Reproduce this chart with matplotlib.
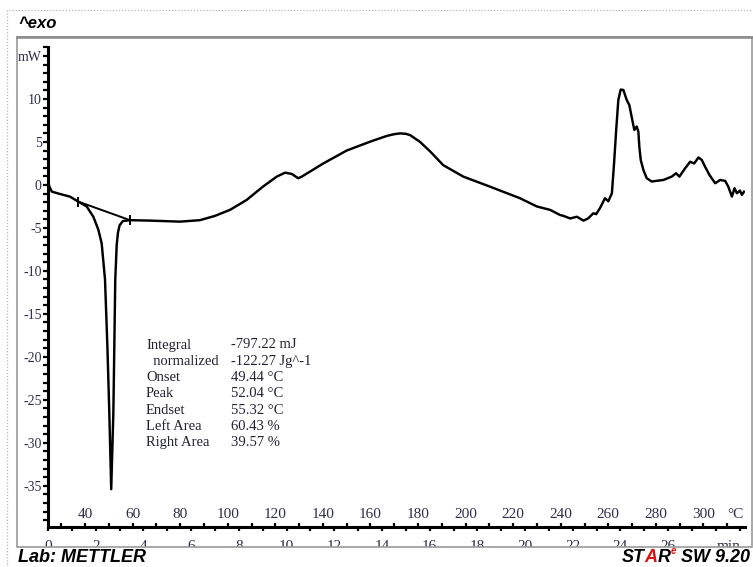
import matplotlib
matplotlib.use('Agg')
import matplotlib.pyplot as plt
from matplotlib.patches import Rectangle
from matplotlib.ticker import MultipleLocator

# ---------------- data ----------------
time_min = [0.00, 0.06, 0.16, 0.50, 0.92, 1.27, 1.62, 1.90, 2.11, 2.25, 2.39, 2.49, 2.57, 2.65,
            2.74, 2.78, 2.82, 2.88, 2.93, 3.00, 3.14, 3.44, 4.28, 5.53, 6.37, 7.00, 7.63, 8.33, 9.01,
            9.59, 9.94, 10.22, 10.49, 10.64, 11.54, 12.52, 13.50, 14.20, 14.50, 14.76, 15.00, 15.18,
            15.60, 16.02, 16.57, 17.41, 18.53, 19.79, 20.49, 21.05, 21.47, 21.61, 21.89, 22.17, 22.45,
            22.64, 22.86, 22.98, 23.14, 23.35, 23.49, 23.64, 23.73, 23.82, 23.91, 24.01, 24.12, 24.26,
            24.37, 24.47, 24.58, 24.68, 24.75, 24.79, 24.85, 24.96, 25.10, 25.31, 25.80, 26.15, 26.33,
            26.47, 26.71, 26.92, 27.09, 27.27, 27.41, 27.55, 27.73, 27.97, 28.18, 28.39, 28.52, 28.67,
            28.78, 28.88, 29.01, 29.09, 29.18]
heat_flow_mw = [0.4, -0.2, -0.78, -1.05, -1.36, -1.94, -2.5, -3.7, -5.2, -6.8, -11.0, -18.8, -26.5, -35.4,
                -26.5, -18.8, -11.0, -7.0, -5.6, -4.7, -4.2, -4.1, -4.15, -4.27, -4.1, -3.6, -2.9, -1.74, -0.2,
                0.97, 1.43, 1.28, 0.78, 0.97, 2.5, 4.0, 5.03, 5.7, 5.9, 6.0, 5.95, 5.8,
                5.0, 3.9, 2.3, 0.97, -0.2, -1.55, -2.5, -2.9, -3.5, -3.6, -3.9, -3.7, -4.15,
                -3.9, -3.3, -3.4, -2.7, -1.55, -1.9, -0.97, 2.5, 6.4, 9.9, 11.1, 11.05, 9.9,
                9.3, 7.9, 6.4, 6.8, 6.2, 4.45, 2.9, 1.74, 0.78, 0.4, 0.58, 0.97, 1.36,
                0.97, 1.94, 2.7, 2.5, 3.2, 2.9, 2.1, 1.16, 0.2, 0.58, 0.47, -0.2, -1.36,
                -0.38, -0.97, -0.66, -1.16, -0.78]
baseline_time = [1.27, 3.44]
baseline_mw = [-1.94, -4.1]

y_ticks = [-35, -30, -25, -20, -15, -10, -5, 0, 5, 10, 15]
y_tick_labels = ['-35', '-30', '-25', '-20', '-15', '-10', '-5', '0', '5', '10', 'mW']
time_ticks = [0, 2, 4, 6, 8, 10, 12, 14, 16, 18, 20, 22, 24, 26]
temp_ticks = [40, 60, 80, 100, 120, 140, 160, 180, 200, 220, 240, 260, 280, 300]

result_names = ['Integral', '  normalized', 'Onset', 'Peak', 'Endset', 'Left Area', 'Right Area']
result_values = ['-797.22 mJ', '-122.27 Jg^-1', '49.44 °C', '52.04 °C', '55.32 °C', '60.43 %', '39.57 %']

T_START = 24.4   # °C at t = 0
RATE = 10.03     # K/min

# ---------------- figure ----------------
W, H = 753, 567
fig = plt.figure(figsize=(W / 100, H / 100), dpi=100)
fig.patch.set_facecolor('white')

serif = 'Liberation Serif'
sans = 'Liberation Sans'
lab_col = '#2e2e4a'

ax = fig.add_axes([48 / W, 1 - 527 / H, (745 - 48) / W, (527 - 47) / H])
ax.plot(time_min, heat_flow_mw, color='black', lw=1.75, solid_joinstyle='round', zorder=3)
ax.plot(baseline_time, baseline_mw, color='black', lw=1.4, marker='|', markersize=7,
        markeredgewidth=1.4, zorder=3)
ax.set_xlim(0, 29.22)
ax.set_ylim(-39.8, 16.05)

for s in ['top', 'right']:
    ax.spines[s].set_visible(False)
for s in ['left', 'bottom']:
    ax.spines[s].set_linewidth(2.2)
    ax.spines[s].set_color('black')

ax.set_yticks(y_ticks)
ax.set_yticklabels(y_tick_labels, fontfamily=serif, fontsize=10, color=lab_col)
ax.yaxis.set_minor_locator(MultipleLocator(1))
ax.tick_params(axis='y', which='both', direction='out', length=3.5, width=1.6, pad=1)

ax.set_xticks(time_ticks)
ax.set_xticklabels([str(v) for v in time_ticks], fontfamily=serif, fontsize=11, color=lab_col)
ax.xaxis.set_minor_locator(MultipleLocator(1))
ax.tick_params(axis='x', which='both', direction='out', length=3, width=1.6, pad=6)

sec = ax.secondary_xaxis(0, functions=(lambda t: T_START + RATE * t, lambda T: (T - T_START) / RATE))
sec.set_alignment('top')
sec.spines['top'].set_visible(False)
sec.spines['bottom'].set_visible(False)
sec.set_xticks(temp_ticks)
sec.set_xticklabels([str(v) for v in temp_ticks], fontfamily=serif, fontsize=11, color=lab_col)
sec.xaxis.set_minor_locator(MultipleLocator(10))
sec.tick_params(axis='x', which='both', direction='out', length=3, width=1.6, pad=1)

# unit labels at the end of the x axes
ax.text((735 - 48) / 697, (527 - 515) / 480, '°C', transform=ax.transAxes, ha='center', va='center',
        fontfamily=serif, fontsize=11, color=lab_col, clip_on=False)
ax.text((729 - 48) / 697, (527 - 547) / 480, 'min', transform=ax.transAxes, ha='center', va='center',
        fontfamily=serif, fontsize=11, color=lab_col, clip_on=False)

# evaluation results
for i, (nm, val) in enumerate(zip(result_names, result_values)):
    yy = (527 - 345 - 16.3 * i) / 480
    ax.text((146 - 48) / 697, yy, nm, transform=ax.transAxes, ha='left', va='center',
            fontfamily=serif, fontsize=10.5, color='#222233')
    ax.text((231 - 48) / 697, yy, val, transform=ax.transAxes, ha='left', va='center',
            fontfamily=serif, fontsize=10.5, color='#222233')

# cover below the frame (clips time labels like the original)
fig.add_artist(Rectangle((9 / W, 0), 1 - 9 / W, 20 / H, transform=fig.transFigure,
                         facecolor='white', edgecolor='none', zorder=5))
# gray frame
fig.add_artist(Rectangle((17 / W, (H - 547) / H), (752 - 17) / W, (547 - 37) / H, transform=fig.transFigure,
                         facecolor='none', edgecolor='#9a9a9a', lw=1.2, zorder=6))
fig.add_artist(plt.Line2D([17 / W, 752 / W], [(H - 36.5) / H] * 2, transform=fig.transFigure,
                          color='#8a8a8a', lw=1.8, zorder=6))
# dotted outer border
fig.add_artist(Rectangle((7 / W, -0.05), (753 - 7) / W + 0.05, (H - 10) / H + 0.05, transform=fig.transFigure,
                         facecolor='none', edgecolor='#b8b8b8', lw=0.9, linestyle=(0, (1, 1.5)), zorder=6))

fig.text(18 / W, (H - 24) / H, '^exo', ha='left', va='center', fontfamily=sans, fontsize=12,
         fontweight='bold', fontstyle='italic', color='black', zorder=7)
fig.text(18 / W, (H - 557) / H, 'Lab: METTLER', ha='left', va='center', fontfamily=sans, fontsize=13,
         fontweight='bold', fontstyle='italic', color='black', zorder=7)

fs = dict(fontfamily=sans, fontsize=13, fontweight='bold', fontstyle='italic', zorder=7)
t_sw = fig.text(750 / W, (H - 557) / H, ' SW 9.20', ha='right', va='center', color='black', **fs)
t_e = fig.add_artist(matplotlib.text.Annotation('e', xy=(0, 0.55), xycoords=t_sw, ha='right', va='bottom',
                                                 color='#e01010', fontfamily=sans, fontsize=7,
                                                 fontweight='bold', fontstyle='italic', zorder=7))
t_r = fig.add_artist(matplotlib.text.Annotation('R', xy=(0, 0), xycoords=(t_e, t_sw), ha='right', va='bottom',
                                                 color='black', **fs))
t_a = fig.add_artist(matplotlib.text.Annotation('A', xy=(0, 0), xycoords=(t_r, t_sw), ha='right', va='bottom',
                                                 color='#e01010', **fs))
t_st = fig.add_artist(matplotlib.text.Annotation('ST', xy=(0, 0), xycoords=(t_a, t_sw), ha='right', va='bottom',
                                                  color='black', **fs))

fig.savefig('out.png', dpi=100, facecolor='white')
